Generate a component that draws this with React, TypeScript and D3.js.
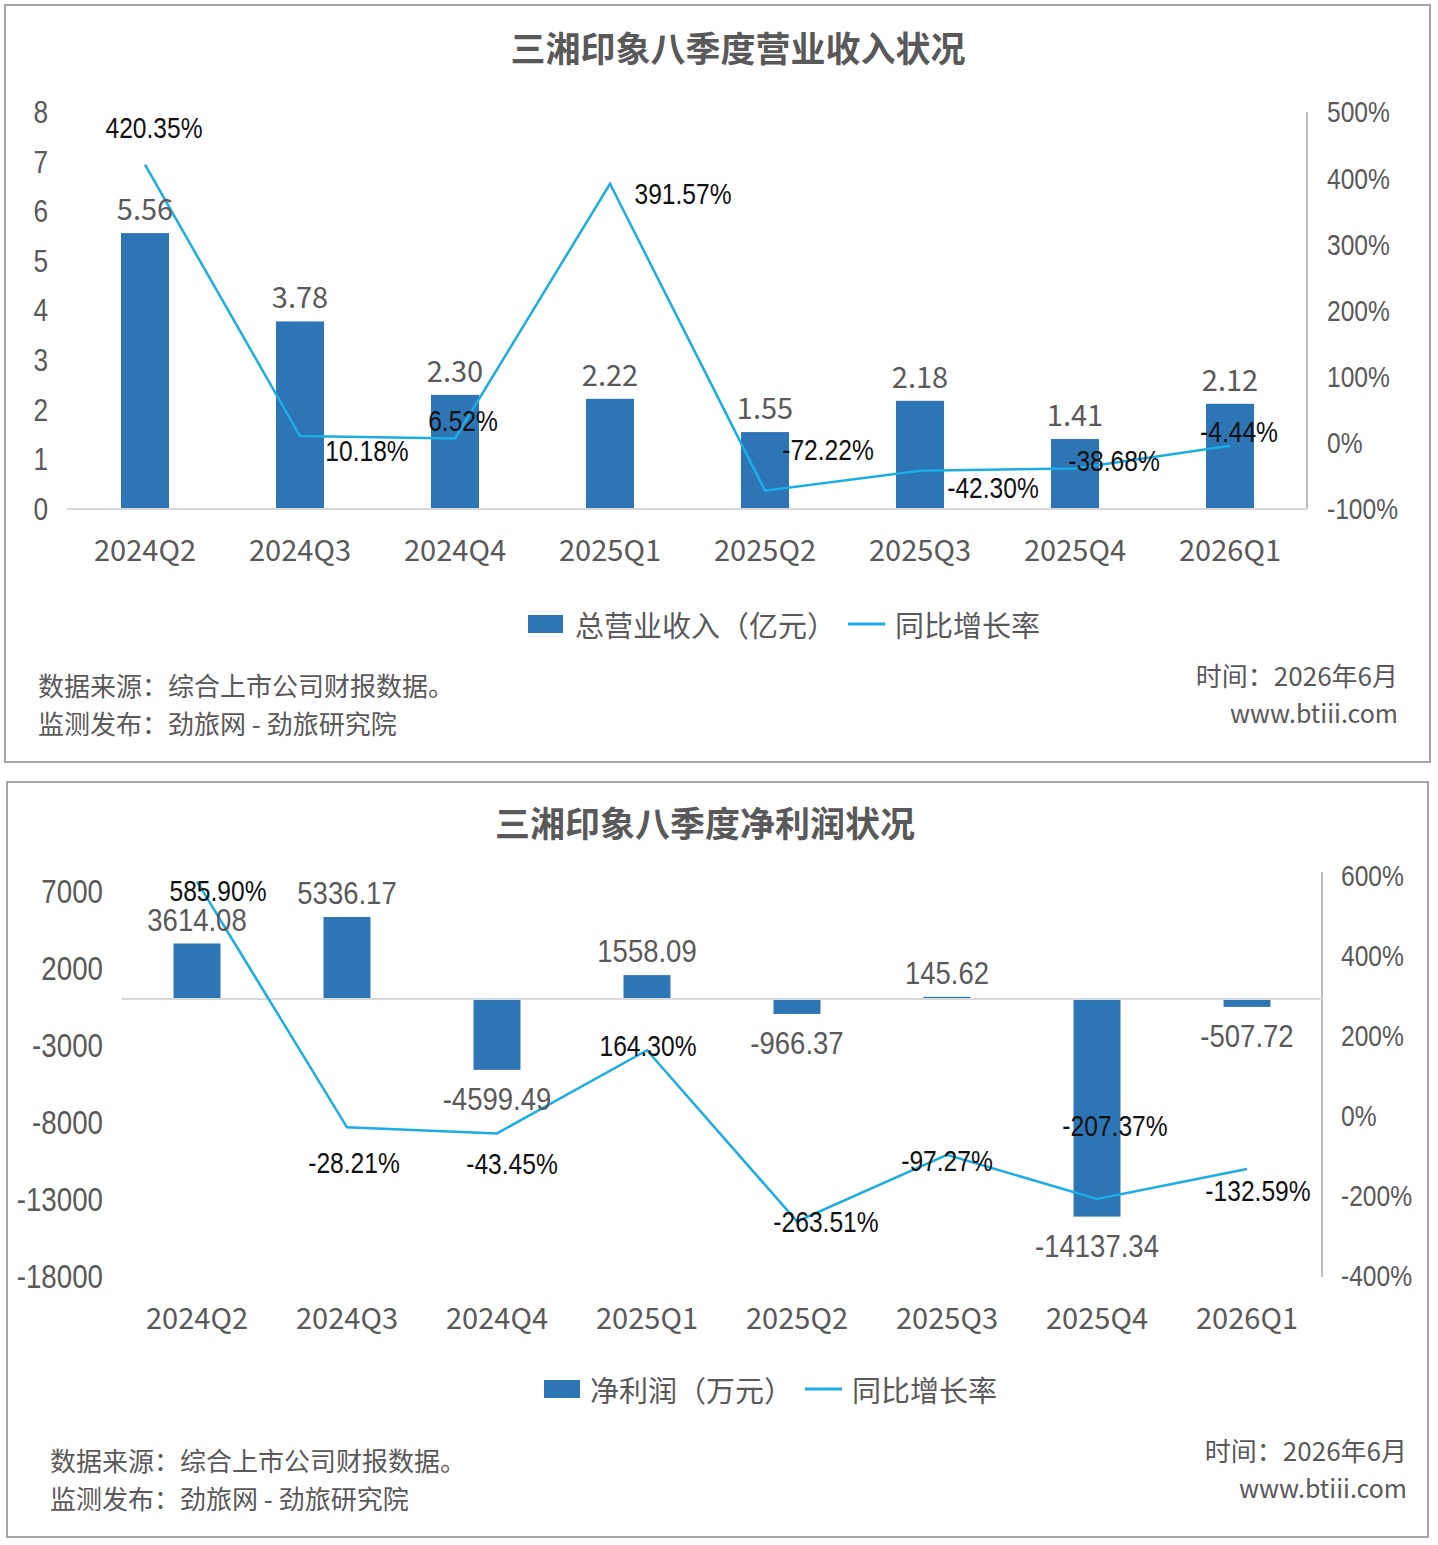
import React from "react";
import * as d3 from "d3";

// ---------- data ----------
const quarters = ["2024Q2", "2024Q3", "2024Q4", "2025Q1", "2025Q2", "2025Q3", "2025Q4", "2026Q1"];

const revenue = [5.56, 3.78, 2.3, 2.22, 1.55, 2.18, 1.41, 2.12];
const revenueLabels = ["5.56", "3.78", "2.30", "2.22", "1.55", "2.18", "1.41", "2.12"];
const revenueGrowth = [420.35, 10.18, 6.52, 391.57, -72.22, -42.3, -38.68, -4.44];
const revenueGrowthLabels = ["420.35%", "10.18%", "6.52%", "391.57%", "-72.22%", "-42.30%", "-38.68%", "-4.44%"];
const revLeftTicks = [0, 1, 2, 3, 4, 5, 6, 7, 8];
const revRightTicks = [-100, 0, 100, 200, 300, 400, 500];

const profit = [3614.08, 5336.17, -4599.49, 1558.09, -966.37, 145.62, -14137.34, -507.72];
const profitLabels = ["3614.08", "5336.17", "-4599.49", "1558.09", "-966.37", "145.62", "-14137.34", "-507.72"];
const profitGrowth = [585.9, -28.21, -43.45, 164.3, -263.51, -97.27, -207.37, -132.59];
const profitGrowthLabels = ["585.90%", "-28.21%", "-43.45%", "164.30%", "-263.51%", "-97.27%", "-207.37%", "-132.59%"];
const profLeftTicks = [-18000, -13000, -8000, -3000, 2000, 7000];
const profRightTicks = [-400, -200, 0, 200, 400, 600];

// label offsets (layout only)
const revPctOffsets: [number, number][] = [[9, -37], [67, 15], [8, -18], [73, 10], [63, -41], [73, 17], [39, -8], [9, -14]];
const profPctOffsets: [number, number][] = [[21, 9], [7, 35], [15, 30], [1, -5], [29, 0], [0, 6], [18, -73], [11, 22]];

// ---------- styles ----------
const CJK = "'Noto Sans CJK SC', 'Noto Sans', sans-serif";
const LAT = "'Liberation Sans', Arial, sans-serif";
const GRAY = "#595959";
const BAR = "#2e75b6";
const LINE = "#1badE4";
const NARROW_X = 0.82;

type Anchor = "start" | "middle" | "end";

function NText({
  x,
  y,
  anchor = "start",
  size,
  fill,
  sx = NARROW_X,
  children,
}: {
  x: number;
  y: number;
  anchor?: Anchor;
  size: number;
  fill: string;
  sx?: number;
  children: React.ReactNode;
}) {
  return (
    <text
      transform={`translate(${x},${y}) scale(${sx},1)`}
      x={0}
      y={0}
      textAnchor={anchor}
      dominantBaseline="central"
      fontFamily={LAT}
      fontSize={size}
      fill={fill}
    >
      {children}
    </text>
  );
}

function Panel({ x, y, w, h }: { x: number; y: number; w: number; h: number }) {
  return <rect x={x} y={y} width={w} height={h} fill="#fff" stroke="#a6a6a6" strokeWidth={2} />;
}

function Footer({ lx, ly, rx, ry }: { lx: number; ly: number; rx: number; ry: number }) {
  return (
    <g fontFamily={CJK} fill={GRAY} fontSize={26}>
      <text x={lx} y={ly} dominantBaseline="central">数据来源：综合上市公司财报数据。</text>
      <text x={lx} y={ly + 38} dominantBaseline="central">监测发布：劲旅网 - 劲旅研究院</text>
      <text x={rx} y={ry} textAnchor="end" dominantBaseline="central">时间：2026年6月</text>
      <text x={rx} y={ry + 38} textAnchor="end" dominantBaseline="central" fontSize={25}>www.btiii.com</text>
    </g>
  );
}

function RevenueChart() {
  const x = d3.scaleBand<string>().domain(quarters).range([67.5, 1307.5]).paddingInner(0.69).paddingOuter(0.345);
  const yL = d3.scaleLinear().domain([0, 8]).range([509, 112]);
  const yR = d3.scaleLinear().domain([-100, 500]).range([509, 112]);
  const cx = (q: string) => (x(q) as number) + x.bandwidth() / 2;
  const line = d3
    .line<number>()
    .x((_, i) => cx(quarters[i]))
    .y((d) => yR(d));
  return (
    <g>
      <Panel x={5} y={5} w={1425} h={757} />
      <text x={738} y={46} textAnchor="middle" dominantBaseline="central" fontFamily={CJK} fontWeight={700} fontSize={35} fill={GRAY}>
        三湘印象八季度营业收入状况
      </text>
      {revLeftTicks.map((t) => (
        <NText key={t} x={48} y={yL(t)} anchor="end" size={32} fill={GRAY}>
          {t}
        </NText>
      ))}
      {revRightTicks.map((t) => (
        <NText key={t} x={1327} y={yR(t)} size={30} fill={GRAY}>
          {t + "%"}
        </NText>
      ))}
      <line x1={1307} x2={1307} y1={112} y2={509} stroke="#a6a6a6" strokeWidth={1.5} />
      {quarters.map((q, i) => (
        <rect key={q} x={x(q)} y={yL(revenue[i])} width={x.bandwidth()} height={yL(0) - yL(revenue[i])} fill={BAR} />
      ))}
      <line x1={67} x2={1307} y1={509} y2={509} stroke="#d9d9d9" strokeWidth={2} />
      {quarters.map((q) => (
        <text key={q} x={cx(q)} y={548} textAnchor="middle" dominantBaseline="central" fontFamily={CJK} fontSize={29} fill={GRAY}>
          {q}
        </text>
      ))}
      <path d={line(revenueGrowth) || ""} fill="none" stroke={LINE} strokeWidth={2.5} />
      {quarters.map((q, i) => (
        <text key={q} x={cx(q)} y={yL(revenue[i]) - 26} textAnchor="middle" dominantBaseline="central" fontFamily={CJK} fontSize={29} fill={GRAY}>
          {revenueLabels[i]}
        </text>
      ))}
      {quarters.map((q, i) => (
        <NText key={q} x={cx(q) + revPctOffsets[i][0]} y={yR(revenueGrowth[i]) + revPctOffsets[i][1]} anchor="middle" size={30} fill="#111">
          {revenueGrowthLabels[i]}
        </NText>
      ))}
      <rect x={528} y={615} width={35} height={18} fill={BAR} />
      <text x={575} y={624} dominantBaseline="central" fontFamily={CJK} fontSize={29} fill={GRAY}>总营业收入（亿元）</text>
      <line x1={848} x2={885} y1={624} y2={624} stroke={LINE} strokeWidth={3} />
      <text x={895} y={624} dominantBaseline="central" fontFamily={CJK} fontSize={29} fill={GRAY}>同比增长率</text>
      <Footer lx={38} ly={684} rx={1398} ry={674} />
    </g>
  );
}

function ProfitChart() {
  const x = d3.scaleBand<string>().domain(quarters).range([122, 1322]).paddingInner(0.687).paddingOuter(0.3435);
  const yL = d3.scaleLinear().domain([-18000, 8000]).range([1276, 876]);
  const yR = d3.scaleLinear().domain([-400, 600]).range([1276, 876]);
  const cx = (q: string) => (x(q) as number) + x.bandwidth() / 2;
  const line = d3
    .line<number>()
    .x((_, i) => cx(quarters[i]))
    .y((d) => yR(d));
  return (
    <g>
      <Panel x={7} y={782} w={1421} h={755} />
      <text x={705} y={821} textAnchor="middle" dominantBaseline="central" fontFamily={CJK} fontWeight={700} fontSize={35} fill={GRAY}>
        三湘印象八季度净利润状况
      </text>
      {profLeftTicks.map((t) => (
        <NText key={t} x={103} y={yL(t)} anchor="end" size={33} sx={0.84} fill={GRAY}>
          {t}
        </NText>
      ))}
      {profRightTicks.map((t) => (
        <NText key={t} x={1341} y={yR(t)} size={30} fill={GRAY}>
          {t + "%"}
        </NText>
      ))}
      <line x1={1322} x2={1322} y1={872} y2={1277} stroke="#a6a6a6" strokeWidth={1.5} />
      {quarters.map((q, i) => {
        const v = profit[i];
        const y0 = yL(0);
        const y1 = yL(v);
        return <rect key={q} x={x(q)} y={Math.min(y0, y1)} width={x.bandwidth()} height={Math.abs(y1 - y0)} fill={BAR} />;
      })}
      <line x1={122} x2={1322} y1={yL(0)} y2={yL(0)} stroke="#d9d9d9" strokeWidth={2} />
      {quarters.map((q) => (
        <text key={q} x={cx(q)} y={1316} textAnchor="middle" dominantBaseline="central" fontFamily={CJK} fontSize={29} fill={GRAY}>
          {q}
        </text>
      ))}
      <path d={line(profitGrowth) || ""} fill="none" stroke={LINE} strokeWidth={2.5} />
      {quarters.map((q, i) => {
        const v = profit[i];
        const yy = v >= 0 ? yL(v) - 24 : yL(v) + 29;
        return (
          <NText key={q} x={cx(q)} y={yy} anchor="middle" size={32} sx={0.86} fill={GRAY}>
            {profitLabels[i]}
          </NText>
        );
      })}
      {quarters.map((q, i) => (
        <NText key={q} x={cx(q) + profPctOffsets[i][0]} y={yR(profitGrowth[i]) + profPctOffsets[i][1]} anchor="middle" size={30} fill="#111">
          {profitGrowthLabels[i]}
        </NText>
      ))}
      <rect x={544} y={1380} width={36} height={18} fill={BAR} />
      <text x={590} y={1389} dominantBaseline="central" fontFamily={CJK} fontSize={29} fill={GRAY}>净利润（万元）</text>
      <line x1={805} x2={842} y1={1389} y2={1389} stroke={LINE} strokeWidth={3} />
      <text x={852} y={1389} dominantBaseline="central" fontFamily={CJK} fontSize={29} fill={GRAY}>同比增长率</text>
      <Footer lx={50} ly={1459} rx={1407} ry={1449} />
    </g>
  );
}

export default function App() {
  return (
    <svg width={1438} height={1545} viewBox="0 0 1438 1545" style={{ position: "absolute", left: 0, top: 0, background: "#fff" }}>
      <rect x={0} y={0} width={1438} height={1545} fill="#fff" />
      <RevenueChart />
      <ProfitChart />
    </svg>
  );
}
